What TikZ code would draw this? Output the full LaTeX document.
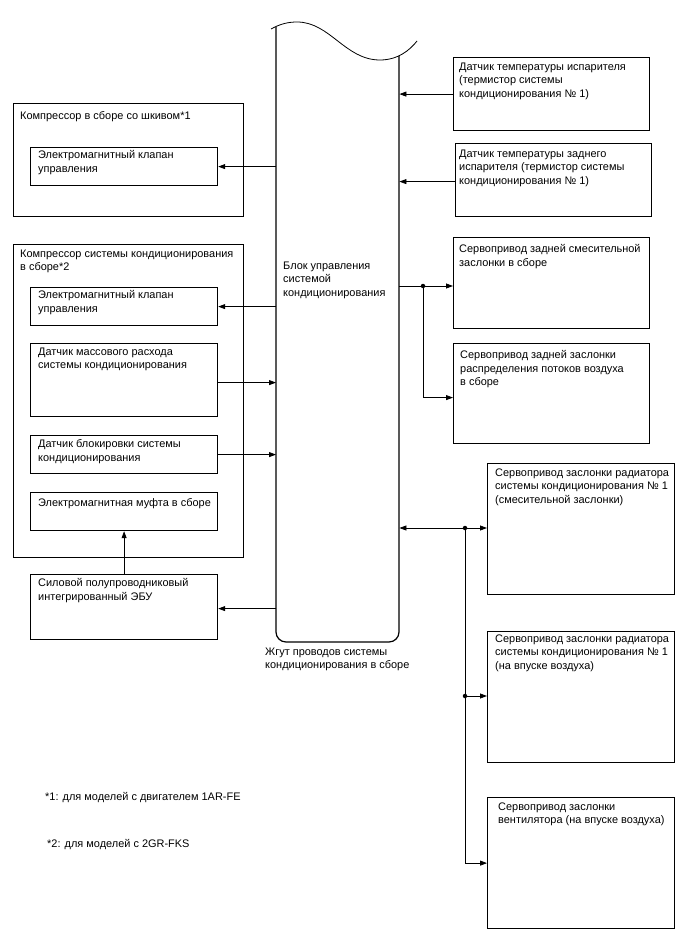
\documentclass[tikz,border=0pt]{standalone}
\usepackage{fontspec}
\setmainfont{Liberation Sans}
\usetikzlibrary{arrows.meta,calc}
\newcommand{\fsz}{\fontsize{10.95}{13.5}\selectfont}
\begin{document}
\begin{tikzpicture}[x=1pt,y=-1pt,
  box/.style={draw, line width=1.2pt, inner sep=0, anchor=north west},
  txt/.style={anchor=north west, inner sep=0, align=left, font=\fsz, execute at begin node=\strut},
  conn/.style={line width=0.8pt},
  arr/.style={conn, -{Triangle[length=7pt,width=5pt]}},
  dot/.style={circle, fill, inner sep=0, minimum size=4.5pt}]
\useasboundingbox (0,0) rectangle (688,949);
% central harness block
\node[inner sep=0, minimum width=123pt, minimum height=614pt, anchor=north west] (ecu) at (276,28) {};
\draw[line width=1.2pt] (276,27) -- (276,632) arc[start angle=180, end angle=270, radius=10pt] -- (389,642)
  arc[start angle=270, end angle=360, radius=10pt] -- (399,56);
\draw[line width=0.8pt] (271,29) .. controls (280,24) and (288,22) .. (297,22)
  .. controls (330,22) and (345,60) .. (380,60) .. controls (398,60) and (410,50) .. (417,41);
\node[txt] (ecutxt) at (283,261.5) {Блок управления\\системой\\кондиционирования};
\node[txt] (harn) at (265,647.5) {Жгут проводов системы\\кондиционирования в сборе};
% left group 1
\node[box, minimum width=230pt, minimum height=113pt] (g1) at (13,103) {};
\node[txt] (g1t) at (20,109.5) {Компрессор в сборе со шкивом*1};
\node[box, minimum width=187pt, minimum height=38pt] (in1) at (30,147) {};
\node[txt] (in1t) at (38,150.5) {Электромагнитный клапан\\управления};
% left group 2
\node[box, minimum width=230pt, minimum height=313pt] (g2) at (13,244) {};
\node[txt] (g2t) at (20,249.5) {Компрессор системы кондиционирования\\в сборе*2};
\node[box, minimum width=187pt, minimum height=38pt] (ina) at (30,287) {};
\node[txt] (inat) at (38,290.5) {Электромагнитный клапан\\управления};
\node[box, minimum width=187pt, minimum height=73pt] (inb) at (30,343) {};
\node[txt] (inbt) at (38,347.5) {Датчик массового расхода\\системы кондиционирования};
\node[box, minimum width=187pt, minimum height=38pt] (inc) at (30,435) {};
\node[txt] (inct) at (38,439.5) {Датчик блокировки системы\\кондиционирования};
\node[box, minimum width=187pt, minimum height=38pt] (ind) at (30,492) {};
\node[txt] (indt) at (38,496.5) {Электромагнитная муфта в сборе};
\node[box, minimum width=187pt, minimum height=65pt] (pw) at (30,574) {};
\node[txt] (pwt) at (38,578.5) {Силовой полупроводниковый\\интегрированный ЭБУ};
% right boxes
\node[box, minimum width=196pt, minimum height=73pt] (r1) at (453,57) {};
\node[txt] (r1t) at (459,62.5) {Датчик температуры испарителя\\(термистор системы\\кондиционирования № 1)};
\node[box, minimum width=196pt, minimum height=73pt] (r2) at (455,143) {};
\node[txt] (r2t) at (459,149.5) {Датчик температуры заднего\\испарителя (термистор системы\\кондиционирования № 1)};
\node[box, minimum width=196pt, minimum height=91pt] (r3) at (453,237) {};
\node[txt] (r3t) at (459,244.5) {Сервопривод задней смесительной\\заслонки в сборе};
\node[box, minimum width=196pt, minimum height=100pt] (r4) at (453,343) {};
\node[txt] (r4t) at (460,350.5) {Сервопривод задней заслонки\\распределения потоков воздуха\\в сборе};
\node[box, minimum width=187pt, minimum height=131pt] (r5) at (487,463) {};
\node[txt] (r5t) at (495,468.5) {Сервопривод заслонки радиатора\\системы кондиционирования № 1\\(смесительной заслонки)};
\node[box, minimum width=187pt, minimum height=131pt] (r6) at (487,631) {};
\node[txt] (r6t) at (495,634.5) {Сервопривод заслонки радиатора\\системы кондиционирования № 1\\(на впуске воздуха)};
\node[box, minimum width=187pt, minimum height=131pt] (r7) at (487,797) {};
\node[txt] (r7t) at (498,802.5) {Сервопривод заслонки\\вентилятора (на впуске воздуха)};
% footnotes
\node[txt] (fn1) at (45,790.5) {*1: для моделей с двигателем 1AR-FE};
\node[txt] (fn2) at (47,837.5) {*2: для моделей с 2GR-FKS};
% connector anchor points
\coordinate (pb) at ([yshift=-2.5pt]inb.east);
\coordinate (pp) at ([yshift=-1.5pt]pw.east);
\coordinate (p2) at ([yshift=-1.5pt]r2.west);
\coordinate (p4) at ([yshift=-4pt]r4.west);
% connectors left
\draw[arr] (ecu.west |- in1.east) -- (in1.east);
\draw[arr] (ecu.west |- ina.east) -- (ina.east);
\draw[arr] (pb) -- (ecu.west |- pb);
\draw[arr] (inc.east) -- (ecu.west |- inc.east);
\draw[arr] (pw.north) -- (ind.south);
\draw[arr] (ecu.west |- pp) -- (pp);
% connectors right
\draw[arr] (r1.west) -- (ecu.east |- r1.west);
\draw[arr] (p2) -- (ecu.east |- p2);
\coordinate (j1) at (423,286);
\draw[conn] (ecu.east |- j1) -- (j1);
\draw[arr] (j1) -- (j1 -| r3.west);
\draw[arr] (j1) |- (p4);
\node[dot] (d1) at (j1) {};
\coordinate (j2) at (465,528);
\coordinate (j3) at (465,696);
\draw[arr] (j2) -- (ecu.east |- j2);
\draw[arr] (j2) -- (j2 -| r5.west);
\draw[conn] (j2) -- (j3);
\draw[arr] (j3) -- (j3 -| r6.west);
\draw[arr] (j3) |- (r7.west);
\node[dot] (d2) at (j2) {};
\node[dot] (d3) at (j3) {};
\end{tikzpicture}
\end{document}
